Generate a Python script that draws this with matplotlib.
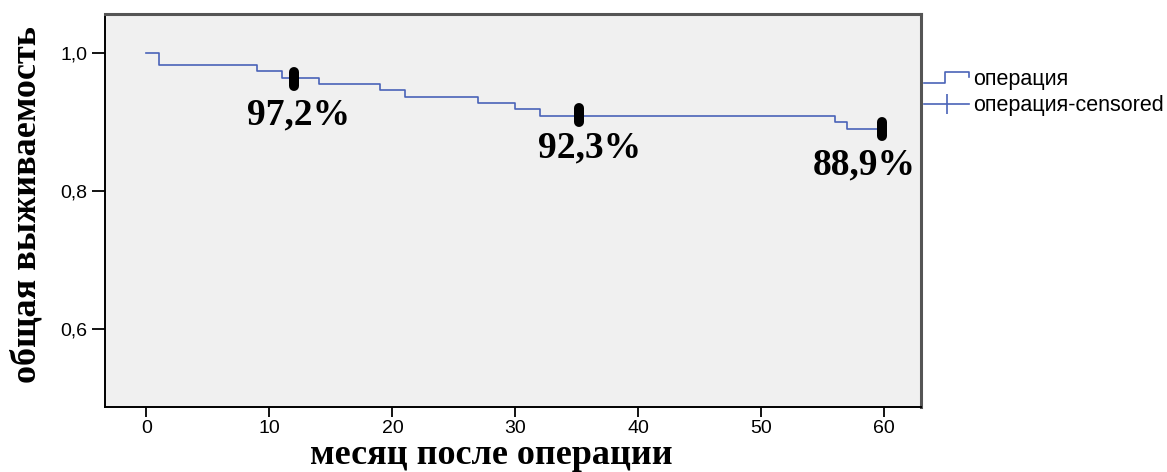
import matplotlib
matplotlib.use("Agg")
import matplotlib.pyplot as plt
from matplotlib.legend_handler import HandlerBase
from matplotlib.lines import Line2D

# Kaplan-Meier estimate: event times (months) and survival after each step
times = [0, 1, 9, 11, 14, 19, 21, 27, 30, 32, 56, 57, 60]
survival = [1.0, 0.982, 0.973, 0.964, 0.955, 0.946, 0.936, 0.927, 0.918, 0.909, 0.900, 0.889, 0.889]

# censored observations
censor_times = [12, 35.2, 59.8]
censor_surv = [0.962, 0.910, 0.890]

# survival rates written on the chart
rate_labels = ["97,2%", "92,3%", "88,9%"]
rate_x = [12.4, 36.0, 58.4]
rate_y = [0.910, 0.862, 0.837]

xticks = [0, 10, 20, 30, 40, 50, 60]
yticks = [0.6, 0.8, 1.0]

line_color = "#4a63b8"
serif = "Liberation Serif"
sans = "Liberation Sans"


class StepHandler(HandlerBase):
    # legend symbol shaped like a small survival step
    def create_artists(self, legend, orig_handle, xdescent, ydescent,
                       width, height, fontsize, trans):
        x0, x1 = -xdescent, -xdescent + width
        xm = x0 + width * 0.45
        yl = -ydescent + height * 0.15
        yh = -ydescent + height * 0.85
        ln = Line2D([x0, xm, xm, x1, x1], [yl, yl, yh, yh, yh - height * 0.35],
                    color=line_color, lw=1.2)
        ln.set_transform(trans)
        return [ln]


fig = plt.figure(figsize=(11.67, 4.72), dpi=100)
ax = fig.add_axes([0.090, 0.138, 0.699, 0.832])
ax.set_facecolor("#f0f0f0")

ax.step(times, survival, where="post", color=line_color, lw=1.2, zorder=3)
ax.vlines(censor_times, [s - 0.010 for s in censor_surv], [s + 0.010 for s in censor_surv],
          colors="black", lw=7.2, capstyle="round", zorder=4)

for lab, x, y in zip(rate_labels, rate_x, rate_y):
    ax.text(x, y, lab, ha="center", va="center", fontsize=27,
            fontweight="bold", family=serif, zorder=5)

ax.set_xlim(-3.37, 62.97)
ax.set_ylim(0.4865, 1.056)
ax.set_xticks(xticks)
ax.set_yticks(yticks)
ax.set_yticklabels([f"{v:.1f}".replace(".", ",") for v in yticks])
ax.tick_params(axis="both", direction="out", width=1.3, color="black", labelsize=14)
ax.tick_params(axis="x", length=7.5, pad=2)
ax.tick_params(axis="y", length=9.5, pad=3)
for lab in ax.get_xticklabels() + ax.get_yticklabels():
    lab.set_family(sans)

for side in ("left", "bottom"):
    ax.spines[side].set_color("black")
    ax.spines[side].set_linewidth(1.4)
for side in ("top", "right"):
    ax.spines[side].set_color("#555555")
    ax.spines[side].set_linewidth(2.2)

ax.set_xlabel("месяц после операции", fontsize=26, fontweight="bold",
              family=serif, va="baseline")
ax.xaxis.set_label_coords(0.474, -0.1452)
ax.set_ylabel("общая выживаемость", fontsize=26, fontweight="bold",
              family=serif, va="center")
ax.yaxis.set_label_coords(-0.096, 0.515)

handles = [Line2D([], [], color=line_color),
           Line2D([], [], color=line_color, lw=1.2, marker="|", markersize=14,
                  markeredgewidth=1.2)]
fig.legend(handles, ["операция", "операция-censored"],
           handler_map={handles[0]: StepHandler()},
           loc="upper left", bbox_to_anchor=(0.792, 0.854), frameon=False,
           prop={"family": sans, "size": 15.5}, handlelength=2.1,
           handletextpad=0.15, labelspacing=0.25, borderaxespad=0, borderpad=0)

fig.savefig("out.png", dpi=100, facecolor="white")
